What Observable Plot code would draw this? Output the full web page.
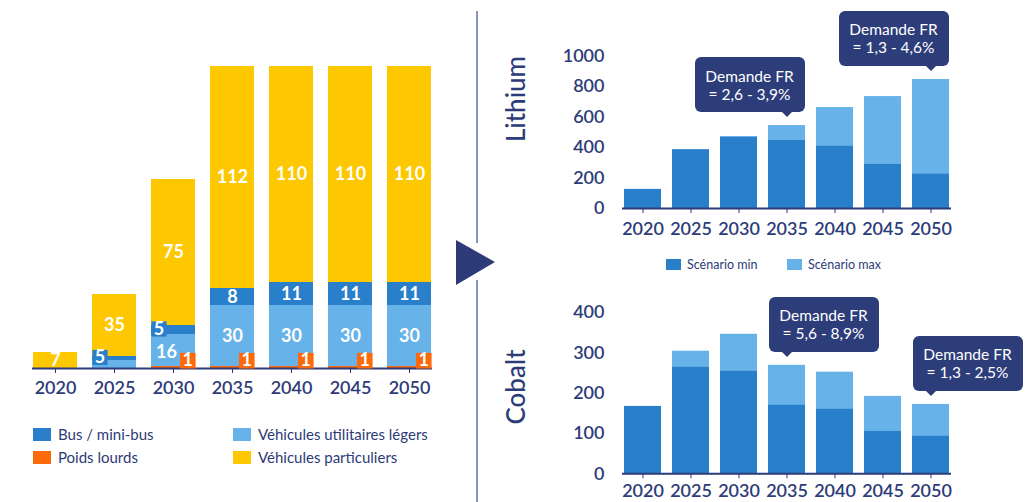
<!DOCTYPE html>
<html><head><meta charset="utf-8">
<script src="https://cdn.jsdelivr.net/npm/d3@7"></script>
<script src="https://cdn.jsdelivr.net/npm/@observablehq/plot@0.6"></script>
<style>
body{margin:0;background:#fff;font-family:Lato,"Open Sans",sans-serif;}
#root{position:relative;width:1033px;height:502px;overflow:hidden;background:#fff;}
.callout{position:absolute;width:110px;height:55px;background:#2c3d7a;border-radius:6px;color:#fff;font-size:15.5px;line-height:18px;text-align:center;display:flex;flex-direction:column;justify-content:center;box-sizing:border-box;}
.callout .ptr{position:absolute;bottom:-5px;width:0;height:0;margin-left:-5px;border-left:5px solid transparent;border-right:5px solid transparent;border-top:5px solid #2c3d7a;}
.leg{position:absolute;display:flex;align-items:center;color:#2d3b78;white-space:nowrap;}
.leg span.sw{display:inline-block;}
.vlabel{position:absolute;transform:translate(-50%,-50%) rotate(-90deg);color:#2d3b78;font-size:26px;font-weight:500;white-space:nowrap;}
</style></head>
<body><div id="root"></div>
<script>
// ---------- DATA ----------
const years = ["2020","2025","2030","2035","2040","2045","2050"];
const categories = ["Poids lourds","Véhicules utilitaires légers","Bus / mini-bus","Véhicules particuliers"];
const categoryColors = ["#fd6a0b","#68b2ea","#2a7fca","#fdc800"];
// segment heights (bottom to top)
const poidsLourds  = [0, 0, 1, 1, 1, 1, 1];
const utilitaires  = [0, 4, 16, 30.5, 30.5, 30.5, 30.5];
const busMini      = [0, 2, 4.5, 8.5, 11.5, 11.5, 11.5];
const particuliers = [8, 31, 73, 111, 108, 108, 108];
// printed labels
const labelsPL  = ["", "", "1", "1", "1", "1", "1"];
const labelsVUL = ["", "", "16", "30", "30", "30", "30"];
const labelsBus = ["", "5", "5", "8", "11", "11", "11"];
const labelsVP  = ["7", "35", "75", "112", "110", "110", "110"];
// legend order (as displayed)
const legendLeft = ["Bus / mini-bus","Véhicules utilitaires légers","Poids lourds","Véhicules particuliers"];

const lithiumMin = [125, 385, 465, 446, 408, 289, 225];
const lithiumMax = [125, 385, 472, 544, 662, 734, 846];
const lithiumTicks = [0, 200, 400, 600, 800, 1000];
const cobaltMin = [167, 264, 254, 170, 160, 105, 93];
const cobaltMax = [167, 304, 346, 269, 252, 192, 172];
const cobaltTicks = [0, 100, 200, 300, 400];
const scenarioLabels = ["Scénario min", "Scénario max"];
const scenarioColors = ["#2a7fca", "#68b2ea"];

const calloutTitle = "Demande FR";
const lithiumCallouts = [{year: "2035", text: "= 2,6 - 3,9%", side: -1}, {year: "2050", text: "= 1,3 - 4,6%", side: -1}];
const cobaltCallouts  = [{year: "2035", text: "= 5,6 - 8,9%", side: 1}, {year: "2050", text: "= 1,3 - 2,5%", side: 1}];

// ---------- STYLE ----------
const navy = "#2d3b78";
const root = document.getElementById("root");
function place(el, left, top) { el.style.position = "absolute"; el.style.left = left + "px"; el.style.top = top + "px"; root.appendChild(el); return el; }
const baseStyle = {fontFamily: "Lato, 'Open Sans', sans-serif", fontSize: "18px", fontWeight: 600, color: navy, background: "transparent", overflow: "visible"};

// ---------- LEFT CHART ----------
const series = [poidsLourds, utilitaires, busMini, particuliers];
const stackRows = [];
categories.forEach((c, i) => years.forEach((y, j) => stackRows.push({year: y, cat: c, value: series[i][j]})));
const labelRows = years.map((y, j) => {
  const a = poidsLourds[j], b = a + utilitaires[j], c = b + busMini[j], d = c + particuliers[j];
  return {year: y, plMid: a / 2, vulMid: (a + b) / 2, busMid: (b + c) / 2, vpMid: (c + d) / 2,
    pl: labelsPL[j], vul: labelsVUL[j], bus: labelsBus[j], vp: labelsVP[j], busSmall: busMini[j] < 6, vulShift: utilitaires[j] < 20};
});
const leftBand = 44.2;
const lbl = {fill: "white", fontSize: 18, fontWeight: 700};
const left = Plot.plot({
  width: 470, height: 400, marginLeft: 32, marginRight: 38, marginTop: 66, marginBottom: 32,
  style: baseStyle,
  x: {domain: years, paddingInner: 0.25, paddingOuter: 0, tickSize: 5, tickPadding: 8, label: null},
  y: {domain: [0, 151], axis: null},
  color: {domain: categories, range: categoryColors},
  marks: [
    Plot.barY(stackRows, {x: "year", y: "value", fill: "cat"}),
    Plot.ruleY([0], {stroke: navy, strokeWidth: 2}),
    Plot.text(labelRows.filter(d => d.vp), {x: "year", y: "vpMid", text: "vp", ...lbl}),
    Plot.text(labelRows.filter(d => d.vul && !d.vulShift), {x: "year", y: "vulMid", text: "vul", ...lbl}),
    Plot.text(labelRows.filter(d => d.vul && d.vulShift), {x: "year", y: "vulMid", text: "vul", ...lbl, dx: -7, dy: 2}),
    Plot.text(labelRows.filter(d => d.bus && !d.busSmall), {x: "year", y: "busMid", text: "bus", ...lbl}),
    Plot.dot(labelRows.filter(d => d.bus && d.busSmall), {x: "year", y: "busMid", symbol: "square", r: 8.6, fill: "#2a7fca", dx: -(leftBand / 2 - 7.6), dy: -1}),
    Plot.text(labelRows.filter(d => d.bus && d.busSmall), {x: "year", y: "busMid", text: "bus", ...lbl, dx: -(leftBand / 2 - 7.6), dy: -1}),
    Plot.dot(labelRows.filter(d => d.pl), {x: "year", y: 0, symbol: "square", r: 8.8, fill: "#fd6a0b", dx: leftBand / 2 - 7.8, dy: -7.8}),
    Plot.text(labelRows.filter(d => d.pl), {x: "year", y: 0, text: "pl", ...lbl, dx: leftBand / 2 - 7.8, dy: -7.8})
  ]
});
place(left, 0, 0);

// left legend
function legendItem(label, color, x, y, sw, sh, fs) {
  const d = document.createElement("div");
  d.className = "leg";
  d.style.fontSize = fs + "px";
  d.innerHTML = `<span class="sw" style="width:${sw}px;height:${sh}px;background:${color};margin-right:${fs > 13 ? 7 : 6}px"></span>${label}`;
  place(d, x, y);
  return d;
}
const legPos = [[33, 425], [233, 425], [33, 448], [233, 448]];
legendLeft.forEach((c, i) => legendItem(c, categoryColors[categories.indexOf(c)], legPos[i][0], legPos[i][1], 18, 13, 15));

// ---------- RIGHT CHARTS ----------
function mineral(minV, maxV, ticks, W, H, mt, mb, tp) {
  const rows = years.map((y, i) => ({year: y, min: minV[i], max: maxV[i]}));
  return Plot.plot({
    width: W, height: H, marginLeft: 62, marginRight: 9, marginTop: mt, marginBottom: mb,
    style: baseStyle,
    x: {domain: years, paddingInner: 0.23, paddingOuter: 0, tickSize: 5, tickPadding: tp, label: null},
    y: {domain: [0, ticks[ticks.length - 1]], ticks, tickFormat: d3.format("d"), tickSize: 0, tickPadding: 18, label: null},
    marks: [
      Plot.barY(rows, {x: "year", y: "max", fill: scenarioColors[1]}),
      Plot.barY(rows, {x: "year", y: "min", fill: scenarioColors[0]}),
      Plot.ruleY([0], {stroke: navy, strokeWidth: 2})
    ]
  });
}
const li = place(mineral(lithiumMin, lithiumMax, lithiumTicks, 400, 245, 55.5, 37, 9), 560, 0);
const co = place(mineral(cobaltMin, cobaltMax, cobaltTicks, 400, 212, 22, 28.7, 5), 560, 290);

function callouts(chart, ox, oy, list, maxV) {
  const xs = chart.scale("x"), ys = chart.scale("y");
  list.forEach(c => {
    const i = years.indexOf(c.year);
    const px = ox + xs.apply(c.year) + xs.bandwidth / 2;
    const top = oy + ys.apply(maxV[i]);
    const boxBottom = top - 13;
    const boxLeft = px - 55 + c.side * 37;
    const d = document.createElement("div");
    d.className = "callout";
    d.innerHTML = `<div>${calloutTitle}</div><div>${c.text}</div><div class="ptr" style="left:${px - boxLeft}px"></div>`;
    place(d, boxLeft, boxBottom - 55);
  });
}
callouts(li, 560, 0, lithiumCallouts, lithiumMax);
callouts(co, 560, 290, cobaltCallouts, cobaltMax);

// top-right legend
scenarioLabels.forEach((s, i) => legendItem(s, scenarioColors[i], [666, 787][i], 257, 15, 11, 12.5));

// vertical labels
const l1 = document.createElement("div"); l1.className = "vlabel"; l1.textContent = "Lithium"; place(l1, 515, 99);
const l2 = document.createElement("div"); l2.className = "vlabel"; l2.textContent = "Cobalt"; place(l2, 515, 387);

// divider + arrow
const deco = document.createElementNS("http://www.w3.org/2000/svg", "svg");
deco.setAttribute("width", 80); deco.setAttribute("height", 502);
deco.innerHTML = `<line x1="37" y1="11" x2="37" y2="243" stroke="#8a93c2" stroke-width="2"/>
<line x1="37" y1="280" x2="37" y2="502" stroke="#8a93c2" stroke-width="2"/>
<polygon points="16,240 55,262 16,285" fill="${navy}"/>`;
place(deco, 440, 0);
</script></body></html>
